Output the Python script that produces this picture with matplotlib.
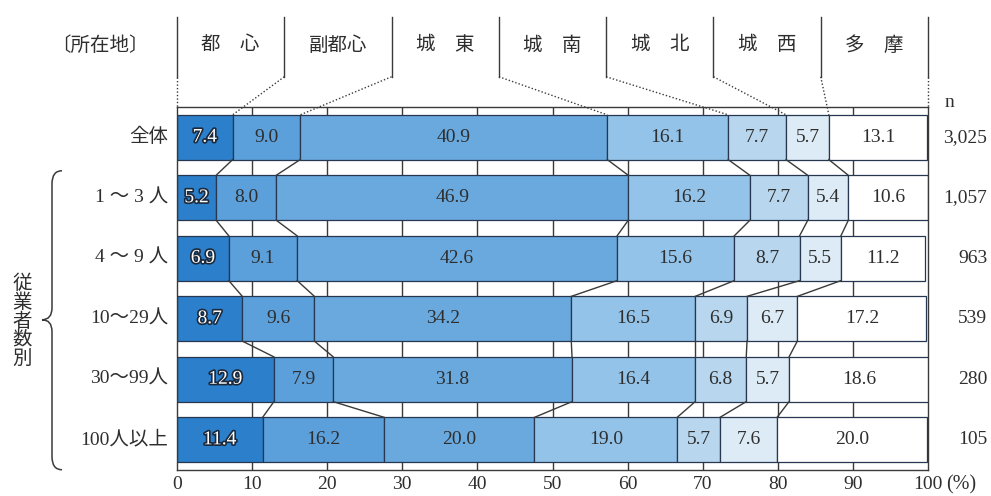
import matplotlib
matplotlib.use("Agg")
import matplotlib.pyplot as plt
import matplotlib.patheffects as pe
from matplotlib.path import Path
from matplotlib.patches import PathPatch
import numpy as np

plt.rcParams['font.family'] = ['Liberation Serif', 'Noto Sans CJK JP']

# --- data -------------------------------------------------------------
regions = ["都　心", "副都心", "城　東", "城　南", "城　北", "城　西", "多　摩"]
groups = ["全体", "1 ～ 3 人", "4 ～ 9 人", "10～29人", "30～99人", "100人以上"]
n_values = ["3,025", "1,057", "963", "539", "280", "105"]

toshin = [7.4, 5.2, 6.9, 8.7, 12.9, 11.4]
fukutoshin = [9.0, 8.0, 9.1, 9.6, 7.9, 16.2]
joto = [40.9, 46.9, 42.6, 34.2, 31.8, 20.0]
jonan = [16.1, 16.2, 15.6, 16.5, 16.4, 19.0]
johoku = [7.7, 7.7, 8.7, 6.9, 6.8, 5.7]
josei = [5.7, 5.4, 5.5, 6.7, 5.7, 7.6]
tama = [13.1, 10.6, 11.2, 17.2, 18.6, 20.0]

xticks = [0, 10, 20, 30, 40, 50, 60, 70, 80, 90, 100]

series = [toshin, fukutoshin, joto, jonan, johoku, josei, tama]
colors = ["#2b7fcb", "#5b9fdb", "#69a9de", "#93c3e8", "#b8d7ee", "#dcebf5", "#ffffff"]

vals = np.array(series).T            # rows = groups, cols = regions
cum = np.hstack([np.zeros((len(groups), 1)), np.cumsum(vals, axis=1)])

# --- figure -------------------------------------------------------------
fig = plt.figure(figsize=(9.91, 4.96), dpi=100)
ax = fig.add_axes([177 / 991, 1 - 470 / 496, (928 - 177) / 991, (470 - 107) / 496])
ax.set_xlim(0, 100)
ax.set_ylim(len(groups) - 0.5, -0.5)

txt_c = "#2e2e2e"
line_c = "#3a3a3a"
edge_c = "#26374f"
h = 0.74
ypos = np.arange(len(groups))

# gridlines visible in the gaps between bars
ax.vlines(xticks[1:-1], -0.5, len(groups) - 0.5, color=line_c, lw=1.0, zorder=1)

for j, (s, c) in enumerate(zip(series, colors)):
    ax.barh(ypos, s, left=cum[:, j], height=h, color=c, edgecolor=edge_c,
            linewidth=0.9, zorder=2)
    for i in range(len(groups)):
        xc = cum[i, j] + s[i] / 2
        if j == 0:
            ax.text(xc, ypos[i], f"{s[i]:.1f}", ha="center", va="center",
                    fontsize=14, color="white", zorder=4,
                    path_effects=[pe.withStroke(linewidth=2.4, foreground="#1c2a3c")])
        else:
            ax.text(xc, ypos[i], f"{s[i]:.1f}", ha="center", va="center",
                    fontsize=14, color=txt_c, zorder=4)

# connectors between consecutive bars
for i in range(len(groups) - 1):
    for k in range(1, len(series)):
        ax.plot([cum[i, k], cum[i + 1, k]], [ypos[i] + h / 2, ypos[i + 1] - h / 2],
                color=line_c, lw=1.0, zorder=3)

# axes frame and ticks
for sp in ax.spines.values():
    sp.set_color(line_c)
    sp.set_linewidth(1.0)
ax.set_yticks([])
ax.set_xticks(xticks)
ax.set_xticklabels([str(t) for t in xticks], fontsize=14, color=txt_c)
ax.tick_params(axis="x", length=0, pad=4)
ax.annotate("(%)", xy=(100, 0), xycoords=ax.get_xaxis_transform(),
            xytext=(13, -4), textcoords="offset points", ha="left", va="top",
            fontsize=14.5, color=txt_c, annotation_clip=False)

# row labels and sample sizes
for i, g in enumerate(groups):
    ax.text(-1.2, ypos[i], g, ha="right", va="center", fontsize=14,
            color=txt_c, clip_on=False)
    ax.text(107.9, ypos[i], n_values[i], ha="right", va="center", fontsize=14,
            color=txt_c, clip_on=False)
ax.text(102.8, -0.57, "n", ha="center", va="center", fontsize=14,
        color=txt_c, clip_on=False)

# header of region names with leader lines
step = 100 / len(regions)
y_top, y_mid = -1.99, -1.0
for k in range(len(regions) + 1):
    xd = k * step
    ax.plot([xd, xd], [y_top, y_mid], color=line_c, lw=1.0, clip_on=False)
    target = cum[0, k] if k < len(regions) else 100
    yend = -0.5 if k in (0, len(regions)) else -h / 2
    ax.plot([xd, target], [y_mid, yend], color=line_c, lw=1.0,
            ls=(0, (1, 1.5)), clip_on=False)
for k, r in enumerate(regions):
    ax.text((k + 0.5) * step, -1.52, r, ha="center", va="center", fontsize=14,
            color=txt_c, clip_on=False)
ax.text(-10.3, -1.52, "〔所在地〕", ha="center", va="center", fontsize=14,
        color=txt_c, clip_on=False)


# curly brace grouping the employee-size rows
def px(xp):
    return (xp - 177) / 7.51


def py(yp):
    return (yp - 137.5) / 60.5


verts = [(px(62), py(171)), (px(52), py(171)), (px(52), py(184)),
         (px(52), py(308)),
         (px(52), py(320)), (px(42), py(320)),
         (px(52), py(320)), (px(52), py(332)),
         (px(52), py(457)),
         (px(52), py(470)), (px(62), py(470))]
codes = [Path.MOVETO, Path.CURVE3, Path.CURVE3, Path.LINETO,
         Path.CURVE3, Path.CURVE3, Path.CURVE3, Path.CURVE3,
         Path.LINETO, Path.CURVE3, Path.CURVE3]
ax.add_patch(PathPatch(Path(verts, codes), fill=False, edgecolor=line_c,
                       lw=1.1, clip_on=False))
ax.text(px(22), py(321), "\n".join("従業者数別"), ha="center", va="center",
        fontsize=14, linespacing=1.05, color=txt_c, clip_on=False)

fig.savefig("out.png", dpi=100)
